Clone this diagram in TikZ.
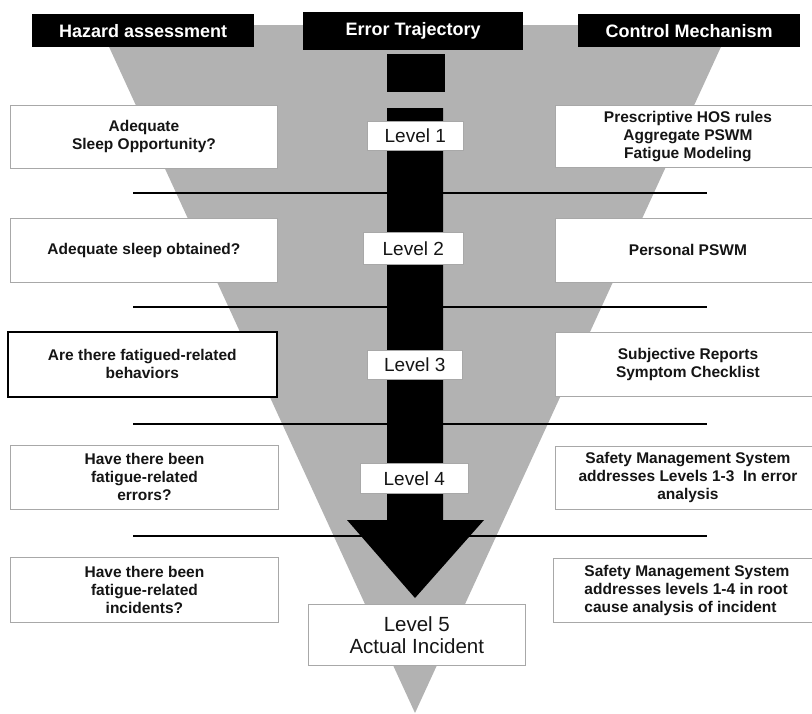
\documentclass[tikz,border=0pt]{standalone}
\usepackage{fontspec}
\setmainfont{Liberation Sans}
\definecolor{funnel}{HTML}{B2B2B2}
\definecolor{boxgray}{HTML}{A8A8A8}
\definecolor{txt}{HTML}{151515}
\begin{document}
\begin{tikzpicture}[x=1pt,y=-1pt,
  hdr/.style={fill=black,text=white,font=\fontsize{18}{20}\selectfont\bfseries,inner sep=0pt,anchor=north west},
  qbox/.style={draw=boxgray,line width=0.9pt,fill=white,inner sep=0pt,anchor=north west,align=center,
    font=\fontsize{15.5}{18}\selectfont\bfseries,text=txt},
  lvl/.style={draw=boxgray,line width=0.6pt,fill=white,inner sep=0pt,anchor=north west,
    font=\fontsize{19}{22}\selectfont,text=txt},
  sepline/.style={line width=1.3pt,black},
  blk/.style={fill=black,draw=none}]
\useasboundingbox (0,0) rectangle (812,713);
\clip (0,0) rectangle (812,713);
% funnel
\coordinate (fl) at (99,25);
\coordinate (fr) at (731,25);
\coordinate (apex) at (415,713);
\fill[funnel] (fl) -- (fr) -- (apex) -- cycle;
% separator lines
\foreach \yy/\nm in {193/a,307/b,424/c,536/d}{
  \coordinate (sl\nm) at (133,\yy);
  \coordinate (sr\nm) at (707,\yy);
  \draw[sepline] (sl\nm) -- (sr\nm);
}
% arrow
\fill[blk] (387,54) rectangle (445,92);
\fill[blk] (387,108) -- (443,108) -- (443,520) -- (484,520) -- (415,598) -- (347,520) -- (387,520) -- cycle;
% headers
\node[hdr,minimum width=222pt,minimum height=33pt] (h1) at (32,14) {Hazard assessment};
\node[hdr,minimum width=220pt,minimum height=38pt] (h2) at (303,12) {Error Trajectory};
\node[hdr,minimum width=222pt,minimum height=33pt] (h3) at (578,14) {Control Mechanism};
% left boxes
\node[qbox,minimum width=267pt,minimum height=63pt] (l1) at (10,105) {Adequate\\Sleep Opportunity?};
\node[qbox,minimum width=267pt,minimum height=64pt] (l2) at (10,218) {Adequate sleep obtained?};
\node[qbox,draw=black,line width=1.6pt,minimum width=269pt,minimum height=65pt] (l3) at (7,331) {Are there fatigued-related\\behaviors};
\node[qbox,minimum width=268pt,minimum height=64pt] (l4) at (10,445) {Have there been\\fatigue-related\\errors?};
\node[qbox,minimum width=268pt,minimum height=65pt] (l5) at (10,557) {Have there been\\fatigue-related\\incidents?};
% right boxes
\node[qbox,minimum width=265pt,minimum height=62pt] (r1) at (555,105) {Prescriptive HOS rules\\Aggregate PSWM\\Fatigue Modeling};
\node[qbox,minimum width=265pt,minimum height=64pt] (r2) at (555,218) {Personal PSWM};
\node[qbox,minimum width=265pt,minimum height=64pt] (r3) at (555,332) {Subjective Reports\\Symptom Checklist};
\node[qbox,minimum width=265pt,minimum height=63pt] (r4) at (555,446) {Safety Management System\\addresses Levels 1-3\ \ In error\\analysis};
\node[qbox,align=left,minimum width=267pt,minimum height=64pt] (r5) at (553,558) {Safety Management System\\addresses levels 1-4 in root\\cause analysis of incident};
% level labels
\node[lvl,minimum width=96pt,minimum height=29pt] (v1) at (367,121) {Level 1};
\node[lvl,minimum width=100pt,minimum height=32pt] (v2) at (363,232) {Level 2};
\node[lvl,minimum width=95pt,minimum height=29pt] (v3) at (367,350) {Level 3};
\node[lvl,minimum width=108pt,minimum height=30pt] (v4) at (360,463) {Level 4};
\node[lvl,align=center,font=\fontsize{20.5}{22}\selectfont,minimum width=217pt,minimum height=61pt] (v5) at (308,604) {Level 5\\Actual Incident};
\end{tikzpicture}
\end{document}
